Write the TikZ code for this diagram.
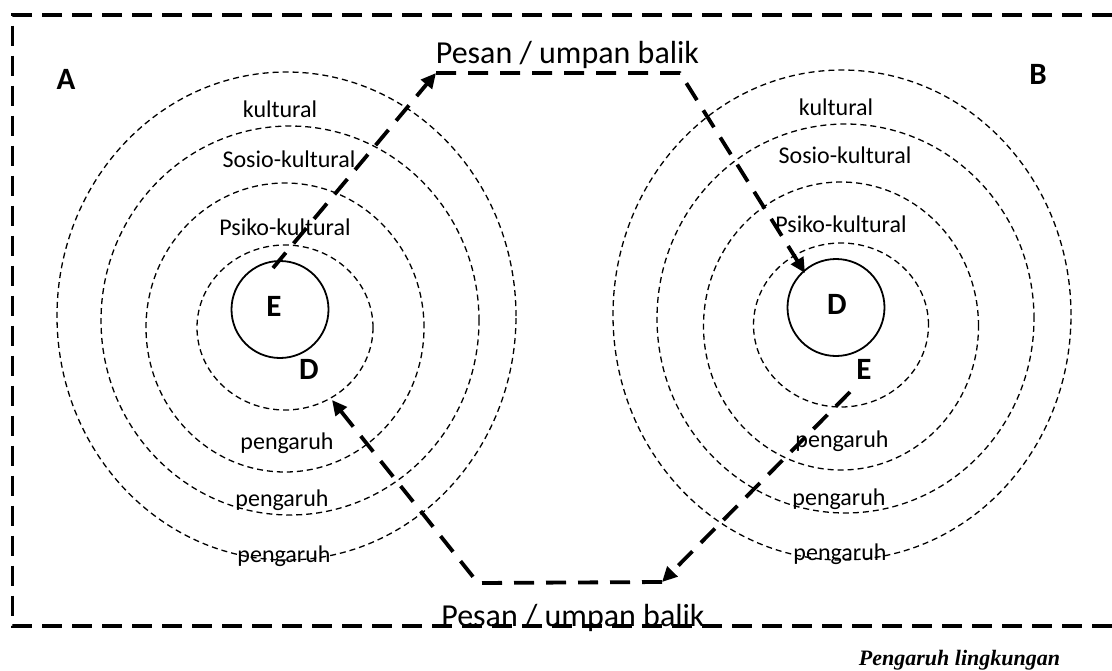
\documentclass[tikz,border=0pt]{standalone}
\usepackage{fontspec}
\setmainfont{Carlito}
\newfontfamily\capfont{Liberation Serif}
\usetikzlibrary{arrows.meta}
\begin{document}
\begin{tikzpicture}[x=1pt,y=-1pt,
  frame/.style={line width=3.5pt, dash pattern=on 20pt off 10pt},
  msg/.style={line width=3.8pt, dash pattern=on 20pt off 12pt, line join=round},
  ring/.style={line width=1.3pt, dash pattern=on 6pt off 4pt},
  core/.style={circle, draw, line width=1.8pt, minimum size=97pt, inner sep=0pt},
  lbl/.style={font=\fontsize{24}{28}\selectfont, anchor=base, inner sep=0pt},
  big/.style={font=\fontsize{31}{35}\selectfont\bfseries, anchor=base, inner sep=0pt},
  pesan/.style={font=\fontsize{32}{37}\selectfont, anchor=base, inner sep=0pt},
  tip/.style={-{Triangle[length=15pt,width=14pt]}}
]
\useasboundingbox (0,0) rectangle (1112,670);
% frame
\coordinate (f1) at (1112,15);
\coordinate (f2) at (12.5,15);
\coordinate (f3) at (12.5,626);
\coordinate (f4) at (1112,626);
\draw[frame] (f1) -- (f2) -- (f3) -- (f4);
% left rings
\draw[ring] (286.5,316) ellipse [x radius=229.5pt, y radius=244pt];
\draw[ring] (290,320.5) ellipse [x radius=189pt, y radius=194.5pt];
\draw[ring] (285,327.5) ellipse [x radius=139pt, y radius=144.5pt];
\draw[ring] (285,327.5) ellipse [x radius=88pt, y radius=82.5pt];
% right rings
\draw[ring] (842,315) ellipse [x radius=229pt, y radius=245pt];
\draw[ring] (845.5,318.5) ellipse [x radius=188.5pt, y radius=194.5pt];
\draw[ring] (841,326) ellipse [x radius=137.5pt, y radius=144pt];
\draw[ring] (841,325) ellipse [x radius=87.5pt, y radius=82pt];
% cores
\node[core] (cl) at (280,309.5) {};
\node[core] (cr) at (836,307.5) {};
% big labels
\node[big] (A) at (66,89) {A};
\node[big] (B) at (1038,84) {B};
\node[big] (El) at (274,316) {E};
\node[big] (Dl) at (309,379) {D};
\node[big] (Dr) at (837,314) {D};
\node[big] (Er) at (864,379) {E};
% ring labels
\node[lbl] (kl) at (280,117) {kultural};
\node[lbl] (sl) at (289,167) {Sosio-kultural};
\node[lbl] (pl) at (285,235) {Psiko-kultural};
\node[lbl] (g1l) at (287,449) {pengaruh};
\node[lbl] (g2l) at (282,506) {pengaruh};
\node[lbl] (g3l) at (284,562) {pengaruh};
\node[lbl] (kr) at (836,115) {kultural};
\node[lbl] (sr) at (845,163) {Sosio-kultural};
\node[lbl] (pr) at (841,232) {Psiko-kultural};
\node[lbl] (g1r) at (842,447) {pengaruh};
\node[lbl] (g2r) at (839,505) {pengaruh};
\node[lbl] (g3r) at (840,560) {pengaruh};
% messages
\node[pesan] (top) at (567.5,63) {Pesan / umpan balik};
\node[pesan] (bot) at (573,626) {Pesan / umpan balik};
\node[font=\capfont\bfseries\itshape\fontsize{22}{26}\selectfont, anchor=base, inner sep=0pt] (cap) at (959.5,665) {Pengaruh lingkungan};
% arrows
\coordinate (s1) at (273,268);
\coordinate (t1) at (436,73);
\coordinate (t2) at (680,73);
\coordinate (t3) at (805,273);
\draw[msg,tip] (s1) -- (t1);
\draw[msg,tip] (t1) -- (t2) -- (t3);
\coordinate (s2) at (850,392);
\coordinate (b1) at (662,582);
\coordinate (b2) at (478,583);
\coordinate (b3) at (332,400);
\draw[msg,tip] (s2) -- (b1);
\draw[msg,tip] (b1) -- (b2) -- (b3);
\end{tikzpicture}
\end{document}
